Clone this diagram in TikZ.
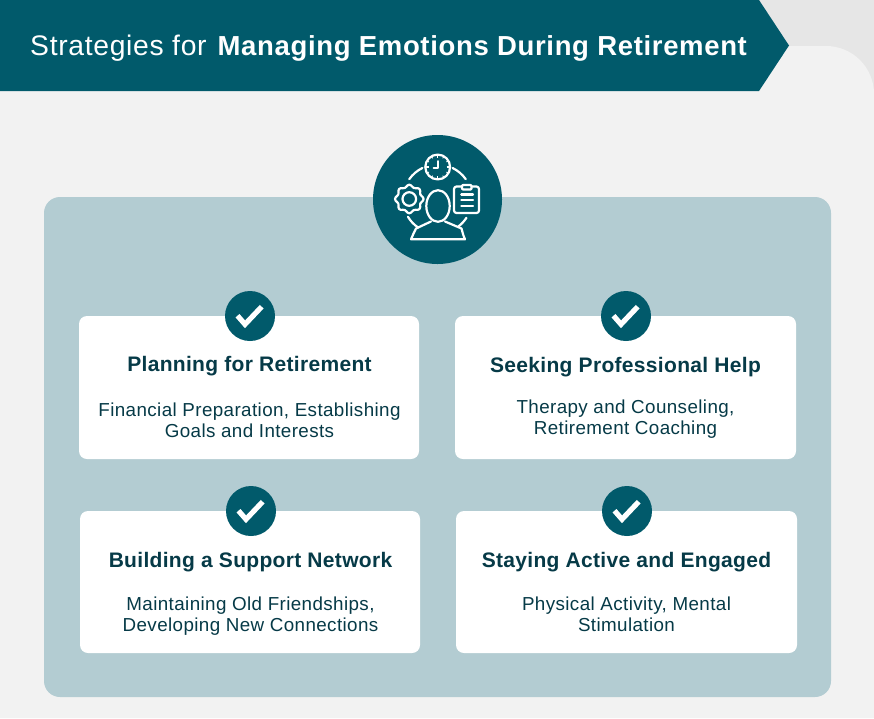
\documentclass[tikz,border=0pt]{standalone}
\usepackage{fontspec}
\setmainfont{Liberation Sans}
\newfontfamily\titlefont[LetterSpace=2.4]{Liberation Sans}
\newfontfamily\titleboldfont[LetterSpace=2.4]{Liberation Sans}
\newfontfamily\headfont[LetterSpace=1.5]{Liberation Sans}
\newfontfamily\bodyfont[LetterSpace=2.1]{Liberation Sans}
\definecolor{teal}{HTML}{015A6B}
\definecolor{paneltint}{HTML}{B3CCD2}
\definecolor{pagebg}{HTML}{F2F2F2}
\definecolor{cornerbg}{HTML}{E6E6E6}
\definecolor{inkdark}{HTML}{063A47}
\tikzset{
  card/.style={fill=white,rounded corners=8pt,draw=none},
  badge/.style={circle,fill=teal,draw=none,minimum size=50pt,inner sep=0pt},
  cardhead/.style={font=\headfont\fontsize{21}{25}\selectfont\bfseries,text=inkdark,inner sep=0pt,anchor=center},
  cardbody/.style={font=\bodyfont\fontsize{18.8}{21.5}\selectfont,text=inkdark,inner sep=0pt,anchor=center,align=center},
  iconline/.style={draw=white,line width=2.2pt,line join=round,line cap=round},
  tickline/.style={draw=white,line width=5.2pt,line join=miter},
}
\newcommand{\tickmark}[1]{\draw[tickline] (#1)++(-12.5,-0.3) -- ++(7.5,8.6) -- ++(16.7,-17.6);}
\begin{document}
\begin{tikzpicture}[x=1pt,y=-1pt]
\useasboundingbox (0,0) rectangle (874,718);
\fill[cornerbg] (0,0) rectangle (874,718);
\fill[pagebg] (0,46) -- (826,46) arc[start angle=-90,end angle=0,radius=48] -- (874,718) -- (0,718) -- cycle;
\fill[teal] (0,0) -- (759,0) -- (789,45.5) -- (759,91) -- (0,91) -- cycle;
\node[anchor=base west,inner sep=0pt,text=white] (title) at (30,55) {\titlefont\fontsize{28.3}{32}\selectfont Strategies for\hspace{11pt}{\titleboldfont\fontsize{27.5}{32}\selectfont\bfseries Managing Emotions During Retirement}};
\fill[paneltint,rounded corners=16pt] (44,197) rectangle (831,697);
\node[circle,fill=teal,minimum size=129pt,inner sep=0pt] (hub) at (437.5,199.5) {};
% icon: clock
\draw[iconline] (437.7,167) circle[radius=12.4];
\draw[iconline,line width=1.6pt] (437.7,161) -- (437.7,168) -- (433.5,168);
\foreach \a in {0,90,180,270}{\draw[white,line width=1.2pt] (437.7,167)++(\a:8.8) -- ++(\a:3);}
\foreach \a in {30,60,120,150,210,240,300,330}{\draw[white,line width=0.8pt] (437.7,167)++(\a:10) -- ++(\a:1.8);}
% icon: gear
\draw[iconline] (409.3,199) circle[radius=6.8];
\begin{scope}[shift={(409.3,199)}]
\draw[iconline] plot[smooth cycle,samples=48,domain=0:352.5] (\x:{13.1+1.2*cos(8*\x)});
\end{scope}
% icon: clipboard
\draw[iconline,rounded corners=2.5pt] (454,186.5) rectangle (479,213);
\draw[iconline,fill=teal,rounded corners=1pt] (462,185) rectangle (471.5,189.5);
\foreach \yy in {194.5,200,206}{\draw[iconline] (461.3,\yy) -- (473,\yy);}
% icon: orbit arcs
\draw[iconline] (437.5,199)++(-64:34.5) arc[start angle=-64,end angle=-35,radius=34.5];
\draw[iconline] (437.5,199)++(-116:34.5) arc[start angle=-116,end angle=-145,radius=34.5];
\draw[iconline] (437.5,199)++(149:34.5) arc[start angle=149,end angle=124,radius=34.5];
\draw[iconline] (437.5,199)++(33:34.5) arc[start angle=33,end angle=53,radius=34.5];
% icon: person
\draw[iconline,fill=teal] (438,206) ellipse[x radius=11.7,y radius=15.8];
\draw[iconline] (431,221.5) -- (416,228.5) .. controls (414,232) and (413,235) .. (411,239.3) -- (465,239.3) .. controls (463,235) and (462.5,232) .. (461.5,228.5) -- (445,221.5);
% cards
\fill[card] (79,316) rectangle (419,459);
\fill[card] (455,316) rectangle (796,459);
\fill[card] (80,511) rectangle (420,653);
\fill[card] (456,511) rectangle (797,653);
\node[badge] (b1) at (250,316) {};
\node[badge] (b2) at (626,316) {};
\node[badge] (b3) at (251,511) {};
\node[badge] (b4) at (627,511) {};
\tickmark{b1}
\tickmark{b2}
\tickmark{b3}
\tickmark{b4}
\node[cardhead] (h1) at (249.5,366) {Planning for Retirement};
\node[cardbody] (t1) at (249.5,420.5) {Financial Preparation, Establishing\\Goals and Interests};
\node[cardhead] (h2) at (625.5,367) {Seeking Professional Help};
\node[cardbody] (t2) at (625.5,419) {Therapy and Counseling,\\Retirement Coaching};
\node[cardhead] (h3) at (250.5,562) {Building a Support Network};
\node[cardbody] (t3) at (250.5,616) {Maintaining Old Friendships,\\Developing New Connections};
\node[cardhead] (h4) at (626.5,562) {Staying Active and Engaged};
\node[cardbody] (t4) at (626.5,614.5) {Physical Activity, Mental\\Stimulation};
\end{tikzpicture}
\end{document}
